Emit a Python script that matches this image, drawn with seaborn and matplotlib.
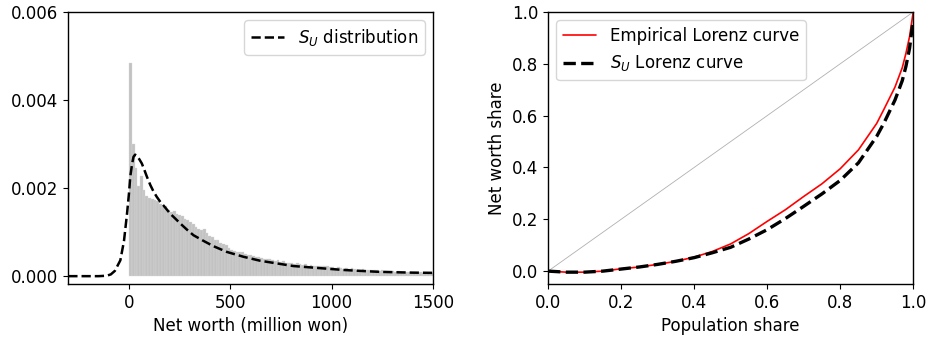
"""Net worth distribution with S_U fit and Lorenz curves."""

import numpy as np
import pandas as pd
import matplotlib
matplotlib.use("Agg")
import matplotlib.pyplot as plt
import seaborn as sns

# Histogram of net worth (density), bins of 13.5 million won starting at 0
BIN_WIDTH = 13.5
hist_density = [
    0.00484, 0.00300, 0.00246, 0.00205, 0.00228, 0.00195, 0.00182, 0.00178,
    0.00176, 0.00172, 0.00170, 0.00163, 0.00158, 0.00160, 0.00151, 0.00146,
    0.00148, 0.00142, 0.00140, 0.00136, 0.00130, 0.00128, 0.00122, 0.00119,
    0.00112, 0.00108, 0.00105, 0.00106, 0.00097, 0.00092, 0.00088, 0.00083,
    0.00081, 0.00075, 0.00073, 0.00070, 0.00063, 0.00060, 0.00058, 0.00055,
    0.00054, 0.00055, 0.00050, 0.00048, 0.00049, 0.00045, 0.00043, 0.00044,
    0.00041, 0.00040, 0.00038, 0.00039, 0.00036, 0.00035, 0.00036, 0.00033,
    0.00034, 0.00031, 0.00030, 0.00031, 0.00028, 0.00029, 0.00027, 0.00026,
    0.00027, 0.00024, 0.00025, 0.00023, 0.00023, 0.00024, 0.00022, 0.00023,
    0.00024, 0.00021, 0.00020, 0.00019, 0.00020, 0.00018, 0.00017, 0.00018,
    0.00017, 0.00018, 0.00016, 0.00015, 0.00015, 0.00016, 0.00014, 0.00014,
    0.00013, 0.00014, 0.00013, 0.00012, 0.00013, 0.00012, 0.00011, 0.00012,
    0.00011, 0.00010, 0.00011, 0.00010, 0.00010, 0.00009, 0.00010, 0.00009,
    0.00009, 0.00008, 0.00009, 0.00008, 0.00008, 0.00008, 0.00008,
]

# Fitted S_U density
su_x = [-300, -150, -110, -90, -70, -43, -25, -10, 0, 6, 15, 22, 30, 39, 50,
        63, 75, 88, 105, 121, 137, 154, 180, 203, 230, 252, 285, 318, 368,
        417, 483, 565, 647, 729, 811, 893, 976, 1060, 1140, 1225, 1305, 1400,
        1500]
su_pdf = [0.0, 0.0, 0.00001, 0.00004, 0.00012, 0.00036, 0.00080, 0.00142,
          0.00190, 0.00226, 0.00255, 0.00271, 0.00276, 0.00273, 0.00266,
          0.00256, 0.00242, 0.00226, 0.00207, 0.00192, 0.00180, 0.00169,
          0.00155, 0.00142, 0.00130, 0.00120, 0.00106, 0.00093, 0.00080,
          0.00068, 0.00055, 0.00044, 0.00035, 0.00029, 0.00023, 0.00020,
          0.00017, 0.00014, 0.00012, 0.00010, 0.00009, 0.00008, 0.000075]

# Lorenz curves
pop_share = [0.0, 0.05, 0.1, 0.15, 0.2, 0.25, 0.3, 0.35, 0.4, 0.45, 0.5, 0.55,
             0.6, 0.65, 0.7, 0.75, 0.8, 0.85, 0.9, 0.92, 0.95, 0.97, 0.98,
             0.99, 1.0]
emp_lorenz = [0.0, -0.004, -0.004, 0.0, 0.009, 0.016, 0.026, 0.038, 0.054,
              0.076, 0.105, 0.145, 0.192, 0.237, 0.288, 0.337, 0.395, 0.468,
              0.57, 0.625, 0.71, 0.785, 0.84, 0.905, 1.0]
su_lorenz = [0.0, -0.004, -0.004, 0.0, 0.008, 0.016, 0.026, 0.038, 0.052,
             0.071, 0.092, 0.124, 0.160, 0.203, 0.250, 0.298, 0.350, 0.418,
             0.52, 0.572, 0.66, 0.735, 0.79, 0.86, 0.97]

sns.set_style("ticks")
plt.rcParams.update({
    "font.family": ["DejaVu Sans"],
    "font.size": 12,
    "axes.labelsize": 12,
    "xtick.labelsize": 12,
    "ytick.labelsize": 12,
    "legend.fontsize": 12,
    "axes.edgecolor": "black",
    "axes.linewidth": 1.0,
    "xtick.color": "black",
    "ytick.color": "black",
    "axes.labelcolor": "black",
    "text.color": "black",
})

fig = plt.figure(figsize=(9.29, 3.39), dpi=100)
ax1 = fig.add_axes([0.0735, 0.162, 0.3925, 0.8026])
ax2 = fig.add_axes([0.590, 0.162, 0.393, 0.8026])

# Left panel: histogram + S_U density
n_bins = len(hist_density)
hist_df = pd.DataFrame({
    "x": np.arange(n_bins) * BIN_WIDTH + BIN_WIDTH / 2,
    "w": hist_density,
})
sns.histplot(data=hist_df, x="x", weights="w", bins=n_bins,
             binrange=(0, n_bins * BIN_WIDTH), stat="count",
             color="#c2c2c2", edgecolor="#dadada", linewidth=0.25, alpha=1.0,
             ax=ax1)
sns.lineplot(x=su_x, y=su_pdf, color="black", linestyle="--", linewidth=1.8,
             label="$S_U$ distribution", ax=ax1)
ax1.set_xlim(-300, 1500)
ax1.set_ylim(-0.00018, 0.006)
ax1.set_xticks([0, 500, 1000, 1500])
ax1.set_yticks([0.0, 0.002, 0.004, 0.006])
ax1.set_yticklabels(["0.000", "0.002", "0.004", "0.006"])
ax1.set_xlabel("Net worth (million won)")
ax1.set_ylabel("")
ax1.legend(loc="upper right", handlelength=2.0)

# Right panel: Lorenz curves
sns.lineplot(x=[0, 1], y=[0, 1], color="#b0b0b0", linewidth=0.6, ax=ax2)
sns.lineplot(x=pop_share, y=emp_lorenz, color="red", linewidth=1.2,
             label="Empirical Lorenz curve", ax=ax2)
sns.lineplot(x=pop_share, y=su_lorenz, color="black", linestyle="--",
             linewidth=2.4, label="$S_U$ Lorenz curve", ax=ax2)
ax2.set_xlim(0, 1)
ax2.set_ylim(-0.05, 1.0)
ax2.set_xticks(np.linspace(0, 1, 6))
ax2.set_yticks(np.linspace(0, 1, 6))
ax2.set_xlabel("Population share")
ax2.set_ylabel("Net worth share")
ax2.legend(loc="upper left", handlelength=2.0)

fig.savefig("out.png", dpi=100)
